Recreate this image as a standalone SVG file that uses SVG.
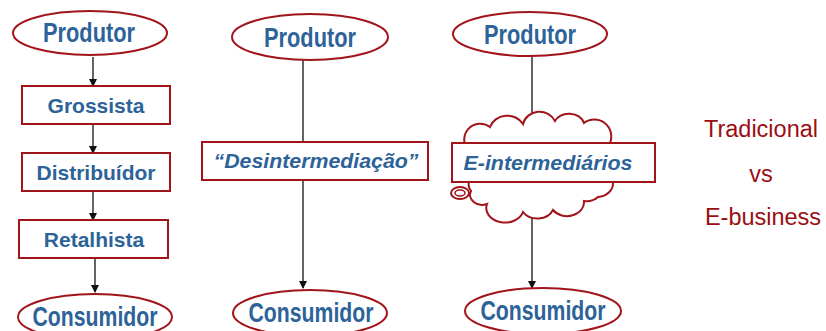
<svg xmlns="http://www.w3.org/2000/svg" width="826" height="331" viewBox="0 0 826 331">
<defs>
<style>
.ell{fill:#fff;stroke:#A0141A;stroke-width:2}
.box{fill:#fff;stroke:#A0141A;stroke-width:2}
.big{font-family:"Liberation Sans",Arial,sans-serif;font-weight:bold;font-size:27px;fill:#2D6398}
.mid{font-family:"Liberation Sans",Arial,sans-serif;font-weight:bold;font-size:21px;fill:#2D6398}
.it{font-family:"Liberation Sans",Arial,sans-serif;font-weight:bold;font-style:italic;font-size:21px;fill:#2D6398}
.side{font-family:"Liberation Sans",Arial,sans-serif;font-size:23.5px;fill:#9A0E12}
.con{stroke:#111;stroke-width:1.3;fill:none;marker-end:url(#ah)}
.conp{stroke:#111;stroke-width:1.3;fill:none}
</style>
<marker id="ah" markerWidth="8" markerHeight="8" refX="7" refY="4" orient="auto" markerUnits="userSpaceOnUse">
<path d="M0,0 L8,4 L0,8 Z" fill="#111"/>
</marker>
</defs>
<g id="connectors">
<line class="con" x1="93" y1="57" x2="93" y2="86"/>
<line class="con" x1="93" y1="124" x2="93" y2="153"/>
<line class="con" x1="93" y1="191" x2="93" y2="220"/>
<line class="con" x1="95" y1="258" x2="95" y2="292"/>
<line class="conp" x1="303" y1="60" x2="303" y2="142"/>
<line class="con" x1="303" y1="180" x2="303" y2="288"/>
<line class="con" x1="532" y1="57" x2="532" y2="124"/>
<line class="con" x1="532" y1="212" x2="532" y2="288"/>
</g>
<g id="produtor1"><ellipse class="ell" cx="90" cy="33" rx="77" ry="22"/><text class="big" x="89" y="42" text-anchor="middle" textLength="92" lengthAdjust="spacingAndGlyphs">Produtor</text></g>
<g id="grossista"><rect class="box" x="22" y="86" width="148" height="38"/><text class="mid" x="96" y="113" text-anchor="middle">Grossista</text></g>
<g id="distribuidor"><rect class="box" x="22" y="153" width="148" height="38"/><text class="mid" x="96" y="180" text-anchor="middle">Distribuídor</text></g>
<g id="retalhista"><rect class="box" x="19" y="220" width="149" height="38"/><text class="mid" x="94" y="247" text-anchor="middle">Retalhista</text></g>
<g id="consumidor1"><ellipse class="ell" cx="95" cy="317" rx="77" ry="23"/><text class="big" x="95" y="326" text-anchor="middle" textLength="125" lengthAdjust="spacingAndGlyphs">Consumidor</text></g>
<g id="produtor2"><ellipse class="ell" cx="310" cy="37" rx="78" ry="23"/><text class="big" x="310" y="47" text-anchor="middle" textLength="92" lengthAdjust="spacingAndGlyphs">Produtor</text></g>
<g id="desintermediacao"><rect class="box" x="202" y="142" width="226" height="38"/><text class="it" x="316" y="168" text-anchor="middle" textLength="205" lengthAdjust="spacingAndGlyphs">“Desintermediação”</text></g>
<g id="consumidor2"><ellipse class="ell" cx="310" cy="313" rx="77" ry="23"/><text class="big" x="311" y="322" text-anchor="middle" textLength="125" lengthAdjust="spacingAndGlyphs">Consumidor</text></g>
<g id="produtor3"><ellipse class="ell" cx="530" cy="34" rx="77" ry="22"/><text class="big" x="530" y="44" text-anchor="middle" textLength="92" lengthAdjust="spacingAndGlyphs">Produtor</text></g>
<g id="eintermediarios">
<path class="box" d="M468,150 A16,16 0 0 1 490,127 A18,16 0 0 1 523,124 A17,16 0 0 1 555,121 A16,14 0 0 1 584,123 A17,17 0 0 1 610,143 L613,182 A16,14 0 0 1 598,197 A16,14 0 0 1 584,201 A17,14 0 0 1 553,210 A17,14 0 0 1 523,212 A18,14 0 0 1 487,204 A12,10 0 0 1 471,191 A10,10 0 0 1 469,182 Z"/>
<ellipse cx="460" cy="193" rx="9" ry="6" fill="#fff" stroke="#A0141A" stroke-width="2"/>
<ellipse cx="460" cy="193" rx="5" ry="3" fill="none" stroke="#A0141A" stroke-width="1.5"/>
<rect class="box" x="452" y="143" width="203" height="39"/>
<text class="it" x="548" y="170" text-anchor="middle" textLength="169" lengthAdjust="spacingAndGlyphs">E-intermediários</text>
</g>
<g id="consumidor3"><ellipse class="ell" cx="543" cy="311" rx="78" ry="23"/><text class="big" x="543" y="320" text-anchor="middle" textLength="125" lengthAdjust="spacingAndGlyphs">Consumidor</text></g>
<g id="legend">
<text class="side" x="761" y="137" text-anchor="middle">Tradicional</text>
<text class="side" x="761" y="182" text-anchor="middle">vs</text>
<text class="side" x="763" y="225" text-anchor="middle">E-business</text>
</g>
</svg>
